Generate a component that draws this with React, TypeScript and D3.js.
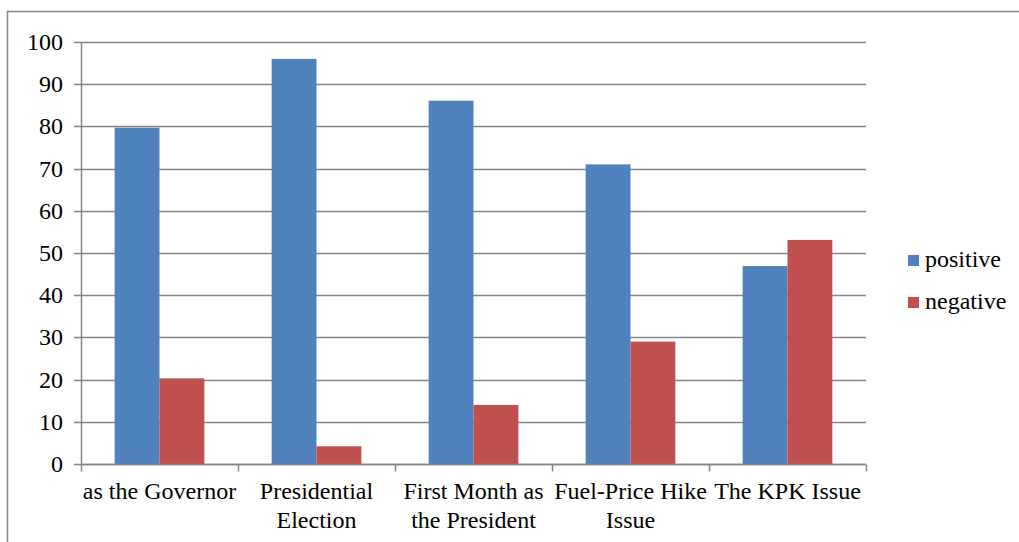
import { useEffect, useRef } from "react";
import * as d3 from "d3";

const categories = [
  ["as the Governor"],
  ["Presidential", "Election"],
  ["First Month as", "the President"],
  ["Fuel-Price Hike", "Issue"],
  ["The KPK Issue"],
];
const positive = [79.7, 96, 86.1, 71, 46.9];
const negative = [20.3, 4.2, 14, 29, 53.1];
const seriesNames = ["positive", "negative"];
const colors = ["#4f81bd", "#c0504d"];
const yTicks = [0, 10, 20, 30, 40, 50, 60, 70, 80, 90, 100];

const FONT = '"Liberation Serif", "Times New Roman", Times, serif';

export default function App() {
  const svgRef = useRef<SVGSVGElement>(null);

  useEffect(() => {
    if (!svgRef.current) return;
    const width = 1019;
    const height = 542;
    const margin = { top: 42, right: 153, bottom: 78, left: 81 };

    const svg = d3.select(svgRef.current);
    svg.selectAll("*").remove();

    // outer frame (cropped on the right and bottom)
    svg
      .append("rect")
      .attr("x", 7.5)
      .attr("y", 11.5)
      .attr("width", 1100)
      .attr("height", 600)
      .attr("fill", "white")
      .attr("stroke", "#888")
      .attr("stroke-width", 1.5);

    const keys = categories.map((c) => c.join(" "));

    const x = d3
      .scaleBand()
      .domain(keys)
      .range([margin.left, width - margin.right]);

    const y = d3
      .scaleLinear()
      .domain([0, 100])
      .range([height - margin.bottom, margin.top]);

    const bw = x.bandwidth() / 3.5;

    // gridlines
    svg
      .append("g")
      .selectAll("line")
      .data(yTicks)
      .join("line")
      .attr("x1", margin.left - 7)
      .attr("x2", width - margin.right)
      .attr("y1", (d) => Math.round(y(d)) + 0.5)
      .attr("y2", (d) => Math.round(y(d)) + 0.5)
      .attr("stroke", "#868686")
      .attr("stroke-width", 1.5);

    // y labels
    svg
      .append("g")
      .selectAll("text")
      .data(yTicks)
      .join("text")
      .attr("x", 63)
      .attr("y", (d) => y(d) + 8)
      .attr("text-anchor", "end")
      .style("font-family", FONT)
      .style("font-size", "24px")
      .text((d) => d);

    // bars
    const series = [positive, negative];
    series.forEach((vals, si) => {
      svg
        .append("g")
        .selectAll("rect")
        .data(vals)
        .join("rect")
        .attr("x", (d, i) => x(keys[i])! + x.bandwidth() / 2 - bw + si * bw)
        .attr("y", (d) => y(d))
        .attr("width", bw)
        .attr("height", (d) => y(0) - y(d))
        .attr("fill", colors[si]);
    });

    // axes
    svg
      .append("line")
      .attr("x1", margin.left + 0.5)
      .attr("x2", margin.left + 0.5)
      .attr("y1", y(100))
      .attr("y2", y(0))
      .attr("stroke", "#868686")
      .attr("stroke-width", 1.5);

    const x0 = Math.round(y(0)) + 0.5;
    svg
      .append("line")
      .attr("x1", margin.left)
      .attr("x2", width - margin.right)
      .attr("y1", x0)
      .attr("y2", x0)
      .attr("stroke", "#868686")
      .attr("stroke-width", 1.5);

    const boundaries = keys.map((k) => x(k)!).concat([width - margin.right]);
    svg
      .append("g")
      .selectAll("line")
      .data(boundaries)
      .join("line")
      .attr("x1", (d) => Math.round(d) + 0.5)
      .attr("x2", (d) => Math.round(d) + 0.5)
      .attr("y1", x0)
      .attr("y2", x0 + 7)
      .attr("stroke", "#868686")
      .attr("stroke-width", 1.5);

    // category labels
    const labels = svg
      .append("g")
      .selectAll("text")
      .data(categories)
      .join("text")
      .attr("x", (d, i) => x(keys[i])! + x.bandwidth() / 2)
      .attr("y", 499)
      .attr("text-anchor", "middle")
      .style("font-family", FONT)
      .style("font-size", "24px");
    labels
      .selectAll("tspan")
      .data((d) => d)
      .join("tspan")
      .attr("x", function () {
        return (this.parentNode as SVGTextElement).getAttribute("x");
      })
      .attr("dy", (d, i) => (i === 0 ? 0 : 29))
      .text((d) => d);

    // legend
    const legend = svg
      .append("g")
      .selectAll("g")
      .data(seriesNames)
      .join("g")
      .attr("transform", (d, i) => `translate(908,${255 + i * 42})`);
    legend
      .append("rect")
      .attr("width", 11)
      .attr("height", 11)
      .attr("fill", (d, i) => colors[i]);
    legend
      .append("text")
      .attr("x", 17)
      .attr("y", 12)
      .style("font-family", FONT)
      .style("font-size", "24px")
      .text((d) => d);
  }, []);

  return (
    <svg
      ref={svgRef}
      width={1019}
      height={542}
      style={{ position: "absolute", left: 0, top: 0, background: "white" }}
    />
  );
}
